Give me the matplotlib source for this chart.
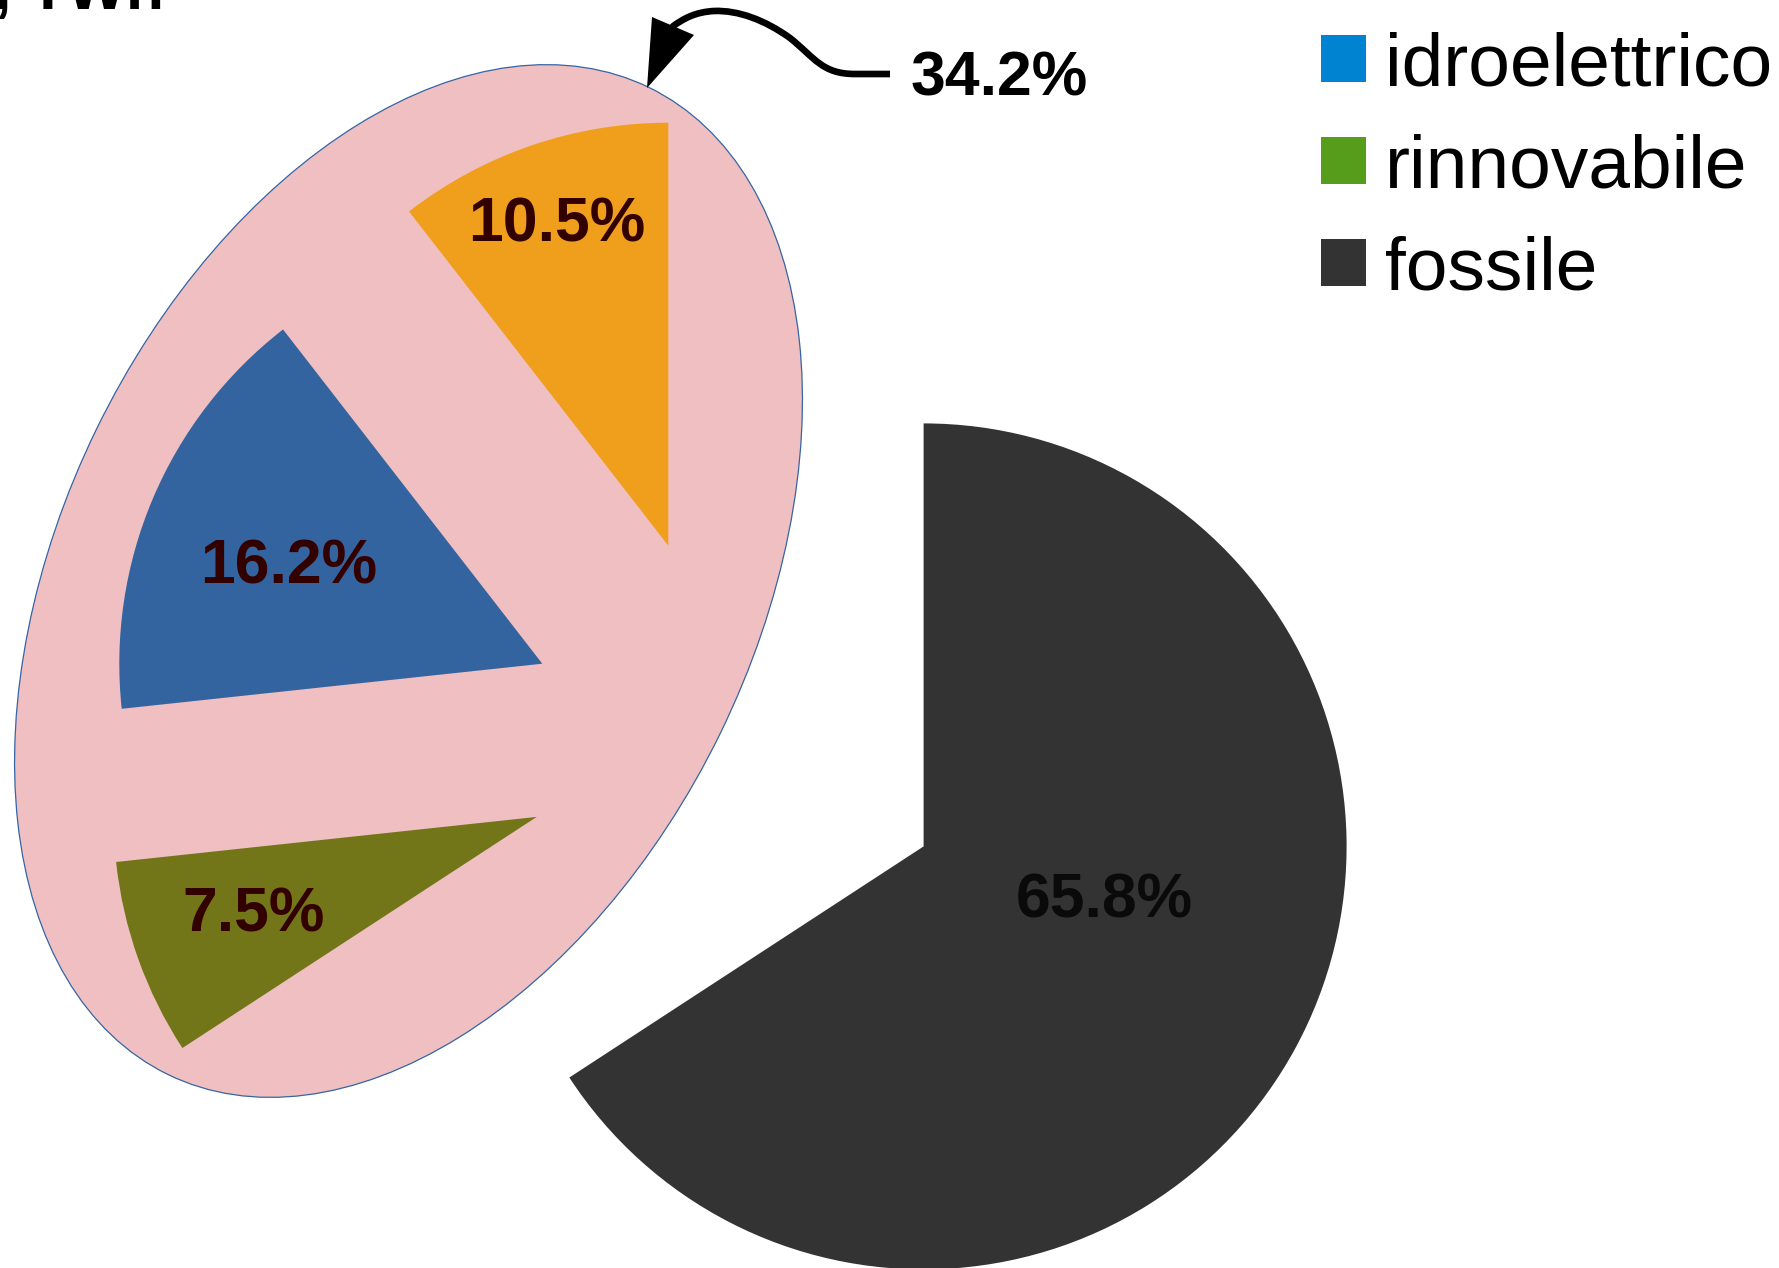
import matplotlib.pyplot as plt
import numpy as np
from matplotlib.patches import Ellipse, Patch, PathPatch, Polygon
from matplotlib.path import Path

# Dati: quote della produzione elettrica (%)
fonti = ['fossile', 'rinnovabile', 'idroelettrico', 'altro']
quote = [65.8, 7.5, 16.2, 10.5]
colori_fette = ['#333333', '#737519', '#33649f', '#f09f1c']
quota_gruppo = 34.2

voci_legenda = ['idroelettrico', 'rinnovabile', 'fossile']
colori_legenda = ['#0084d1', '#579d1c', '#333333']

W, H = 1779, 1268


def px(x, y):
    # coordinate in pixel dall'alto -> coordinate dati con y verso l'alto
    return (x, H - y)


plt.rcParams['font.family'] = ['Liberation Sans', 'DejaVu Sans']

fig = plt.figure(figsize=(W / 100, H / 100), dpi=100)
ax = fig.add_axes([0, 0, 1, 1])

# ellisse rosa che raggruppa le fette minori
ell = Ellipse(px(408.5, 581), width=694, height=1098, angle=-26,
              facecolor='#f0bfc1', edgecolor='#3465a4', linewidth=0.9, zorder=1)
ax.add_patch(ell)

raggio = 423
centro = px(923.6, 846.4)
fette, _ = ax.pie(quote, colors=colori_fette, startangle=90, counterclock=False,
                  radius=raggio, center=centro, wedgeprops={'linewidth': 0})
for f in fette:
    f.set_zorder(2)

# fette staccate dentro l'ellisse
centri_staccati = [px(536.7, 816.9), px(542.3, 663.7), px(668.3, 545.7)]
for f, c in zip(fette[1:], centri_staccati):
    f.set_center(c)

# etichette percentuali
pos_etichette = [(1104, 917), (254, 932), (288.5, 583), (556.5, 242)]
colori_testo = ['#0a0a0a', '#330000', '#330000', '#330000']
for q, (x, y), c in zip(quote, pos_etichette, colori_testo):
    ax.text(*px(x, y), f'{q:.1f}%', ha='center', va='baseline', fontsize=45,
            fontweight='bold', color=c, zorder=5)

# freccia curva verso il gruppo
verts = [px(890, 74), px(855, 74),
         px(822, 74), px(815, 58), px(790, 38),
         px(765, 20), px(738, 10), px(714, 11),
         px(696, 12), px(684, 18), px(672, 27)]
codes = [Path.MOVETO, Path.LINETO] + [Path.CURVE4] * 9
ax.add_patch(PathPatch(Path(verts, codes), facecolor='none', edgecolor='black',
                       linewidth=4.8, capstyle='butt', zorder=6))
ax.add_patch(Polygon([px(652, 17), px(694, 35), px(647, 88)], closed=True,
                     facecolor='black', edgecolor='none', zorder=6))
ax.text(*px(999, 95), f'{quota_gruppo:.1f}%', ha='center', va='baseline',
        fontsize=45, fontweight='bold', color='black', zorder=6)

# titolo tagliato in alto
ax.text(*px(-6, 9), ', TWh', ha='left', va='baseline', fontsize=45,
        fontweight='bold', color='black')

maniglie = [Patch(facecolor=c, edgecolor='none') for c in colori_legenda]
fig.legend(maniglie, voci_legenda, loc='upper left',
           bbox_to_anchor=(1321 / W, 1 - 31 / H), frameon=False,
           fontsize=54, handlelength=0.6, handleheight=0.6,
           handletextpad=0.25, labelspacing=0.44, borderpad=0,
           borderaxespad=0)

ax.set_xlim(0, W)
ax.set_ylim(0, H)
ax.set_aspect('equal')
ax.axis('off')

fig.savefig('out.png', dpi=100)
